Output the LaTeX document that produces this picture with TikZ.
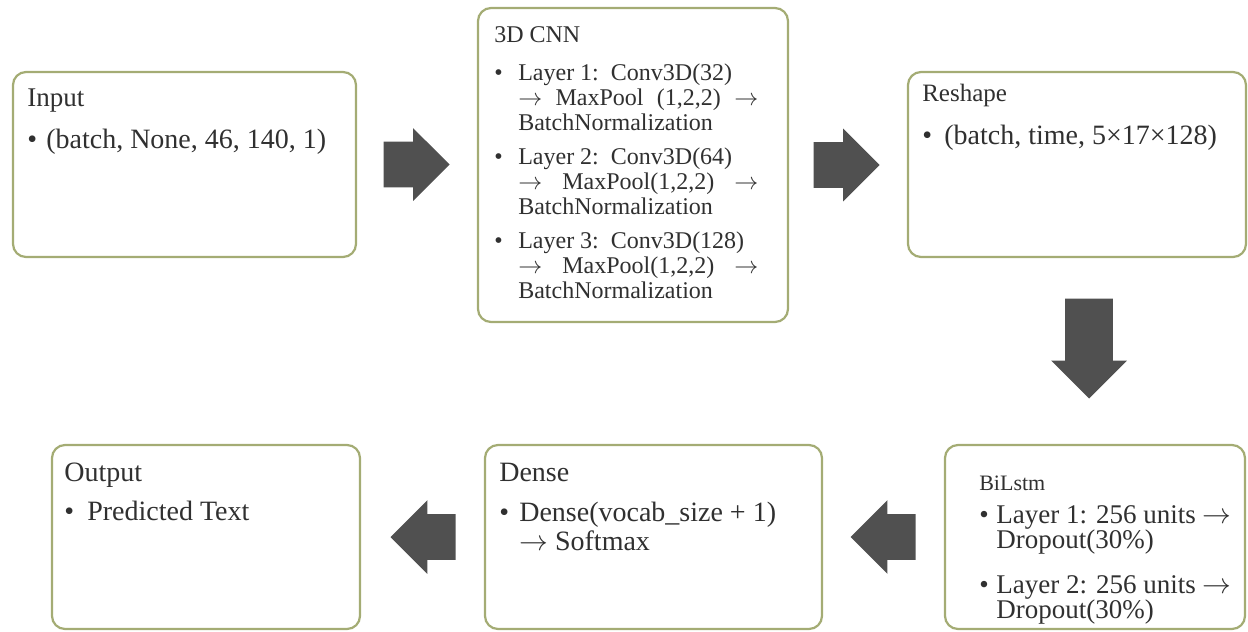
\documentclass[tikz,border=0pt]{standalone}
\usepackage{fontspec}
\setmainfont{Liberation Serif}
\usepackage{tikz}
\usetikzlibrary{shapes.arrows,calc,positioning}
\definecolor{boxline}{HTML}{A4AC74}
\definecolor{arrowgray}{HTML}{505050}
\definecolor{textgray}{HTML}{303030}
\newcommand\itembul[1]{\makebox[#1][l]{\textbullet}}
\newcommand\itemind[1]{\hspace*{#1}}

\begin{document}
\begin{tikzpicture}[
 x=0.5pt,y=-0.5pt,
 blk/.style={draw=boxline,line width=1.1pt,fill=white,rounded corners=6.5pt,inner sep=0pt},
 txt/.style={anchor=base west,inner sep=0pt,text width=220pt,align=flush left,text=textgray},
 barrow/.style={single arrow,anchor=tail,fill=arrowgray,draw=none,inner xsep=0pt,inner ysep=11.25pt,single arrow head extend=6.75pt,minimum height=33pt}
]
\useasboundingbox (0,0) rectangle (1248,632);

\node[blk,minimum width=171.5pt,minimum height=92.5pt] (input) at (184.5,164.5) {};
\node[blk,minimum width=155pt,minimum height=157pt] (cnn) at (633,165) {};
\node[blk,minimum width=169pt,minimum height=92.5pt] (reshape) at (1077,164.5) {};
\node[blk,minimum width=150pt,minimum height=92pt] (bilstm) at (1095,537) {};
\node[blk,minimum width=168.5pt,minimum height=92pt] (dense) at (653.5,537) {};
\node[blk,minimum width=154pt,minimum height=92pt] (output) at (206,537) {};

\node[txt,font=\fontsize{14}{15}\selectfont] (inputtxt) at ($(input.north west)+(15,36)$)
 {{\fontsize{13.5}{15}\selectfont Input}\\[6pt]
 \itembul{9.5pt}(batch, None, 46, 140, 1)};
\node[txt,font=\fontsize{12}{12.5}\selectfont] (cnntxt) at ($(cnn.north west)+(17,36)$)
 {3D CNN\\[6.5pt]
 \itembul{12pt}Layer 1:\ \ Conv3D(32)\\
 \itemind{12pt}\makebox[120pt][s]{$\rightarrow$ MaxPool (1,2,2) $\rightarrow$}\\
 \itemind{12pt}BatchNormalization\\[4.5pt]
 \itembul{12pt}Layer 2:\ \ Conv3D(64)\\
 \itemind{12pt}\makebox[120pt][s]{$\rightarrow$ MaxPool(1,2,2) $\rightarrow$}\\
 \itemind{12pt}BatchNormalization\\[4.5pt]
 \itembul{12pt}Layer 3:\ \ Conv3D(128)\\
 \itemind{12pt}\makebox[120pt][s]{$\rightarrow$ MaxPool(1,2,2) $\rightarrow$}\\
 \itemind{12pt}BatchNormalization};
\node[txt,font=\fontsize{14}{15}\selectfont] (reshapetxt) at ($(reshape.north west)+(15,31)$)
 {{\fontsize{12.5}{15}\selectfont Reshape}\\[6.5pt]
 \itembul{11pt}(batch, time, 5×17×128)};
\node[txt,font=\fontsize{13.5}{12.5}\selectfont] (bilstmtxt) at ($(bilstm.north west)+(35,47)$)
 {{\fontsize{11}{12.5}\selectfont BiLstm}\\[4pt]
 \itembul{8.5pt}Layer 1: 256 units $\rightarrow$\\
 \itemind{8.5pt}Dropout(30\%)\\[10pt]
 \itembul{8.5pt}Layer 2: 256 units $\rightarrow$\\
 \itemind{8.5pt}Dropout(30\%)};
\node[txt,font=\fontsize{14}{14.5}\selectfont] (densetxt) at ($(dense.north west)+(15,38)$)
 {Dense\\[5.5pt]
 \itembul{10pt}Dense(vocab\_size + 1)\\
 \itemind{10pt}$\rightarrow$ Softmax};
\node[txt,font=\fontsize{14}{14.5}\selectfont] (outputtxt) at ($(output.north west)+(13,38)$)
 {Output\\[5pt]
 \itembul{11.5pt}Predicted Text};

\node[barrow] (a1) at ($(input.east)+(26,0)$) {};
\node[barrow] (a2) at ($(cnn.east)+(24,0)$) {};
\node[barrow,rotate=-90,inner ysep=11.75pt,single arrow head extend=7pt,minimum height=50pt] (a3) at ($(reshape.south)+(12,40)$) {};
\node[barrow,rotate=180,single arrow head extend=7pt,minimum height=32.5pt] (a4) at ($(bilstm.west)+(-28,0)$) {};
\node[barrow,rotate=180,single arrow head extend=7pt,minimum height=32.5pt] (a5) at ($(dense.west)+(-28,0)$) {};
\end{tikzpicture}
\end{document}
